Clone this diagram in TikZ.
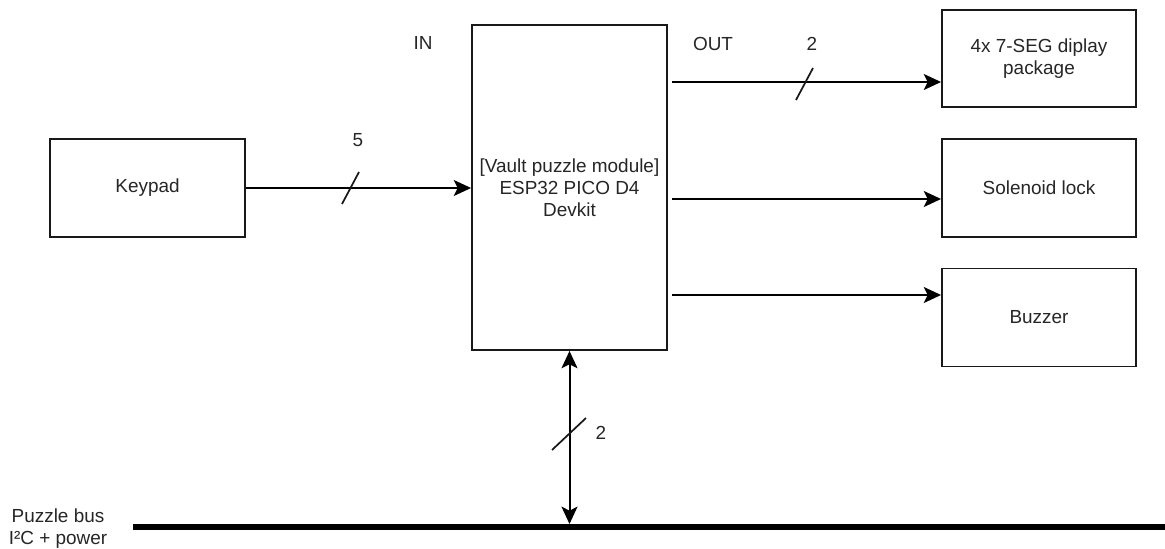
\documentclass[tikz,border=0pt]{standalone}
\usepackage{fontspec}
\setmainfont{Liberation Sans}
\usetikzlibrary{arrows.meta}
\begin{document}
\begin{tikzpicture}[x=0.75pt,y=-0.75pt,
  every node/.style={font=\fontsize{14.2pt}{16.5pt}\selectfont, text=black!85},
  box/.style={draw=black!90, line width=1.4pt, fill=white, inner sep=0pt, align=center},
  arr/.style={draw=black, line width=1.5pt, -{Stealth[length=13pt,width=12pt,inset=3pt]}},
  dbl/.style={draw=black, line width=1.5pt, {Stealth[length=13pt,width=12pt,inset=3pt]}-{Stealth[length=13pt,width=12pt,inset=3pt]}},
  slash/.style={draw=black!90, line width=1.3pt},
  lbl/.style={inner sep=0pt, anchor=center}]
\useasboundingbox (0,0) rectangle (1165,549);

% boxes
\node[box, minimum width=146.25pt, minimum height=73.5pt] (keypad) at (147.5,188) {Keypad};
\node[box, minimum width=146.25pt, minimum height=243.75pt] (mcu) at (569.5,187.5) {[Vault puzzle module]\\ESP32 PICO D4\\Devkit};
\node[box, minimum width=145.5pt, minimum height=72.75pt] (seg) at (1039,58.5) {4x 7-SEG diplay\\package};
\node[box, minimum width=145.5pt, minimum height=73.5pt] (sol) at (1039,188) {Solenoid lock};
\node[box, minimum width=145.5pt, minimum height=73.5pt] (buz) at (1039,317.5) {Buzzer};

% bus
\coordinate (busL) at (133,527);
\coordinate (busR) at (1165,527);
\draw[line width=3.8pt, black] (busL) -- (busR);
\coordinate (busTop) at (569.5,524);

% connectors
\draw[arr] (keypad.east) -- (keypad.east -| mcu.west);
\coordinate (o1) at (672,82);
\coordinate (o2) at (672,199);
\coordinate (o3) at (672,295);
\draw[arr] (o1) -- (o1 -| seg.west);
\draw[arr] (o2) -- (o2 -| sol.west);
\draw[arr] (o3) -- (o3 -| buz.west);
\draw[dbl] (mcu.south) -- (busTop);

% bus-width slashes
\draw[slash] (342,204) -- (359,172);
\draw[slash] (796,100) -- (813,68);
\draw[slash] (552,450) -- (586,418);

% labels
\node[lbl] (n5) at (358,140) {5};
\node[lbl] (n2a) at (812,44) {2};
\node[lbl] (n2b) at (601,433) {2};
\node[lbl] (in) at (423,43) {IN};
\node[lbl] (out) at (713,44) {OUT};
\node[lbl, align=center] (buslbl) at (58,529) {Puzzle bus\\I²C + power};
\end{tikzpicture}
\end{document}
